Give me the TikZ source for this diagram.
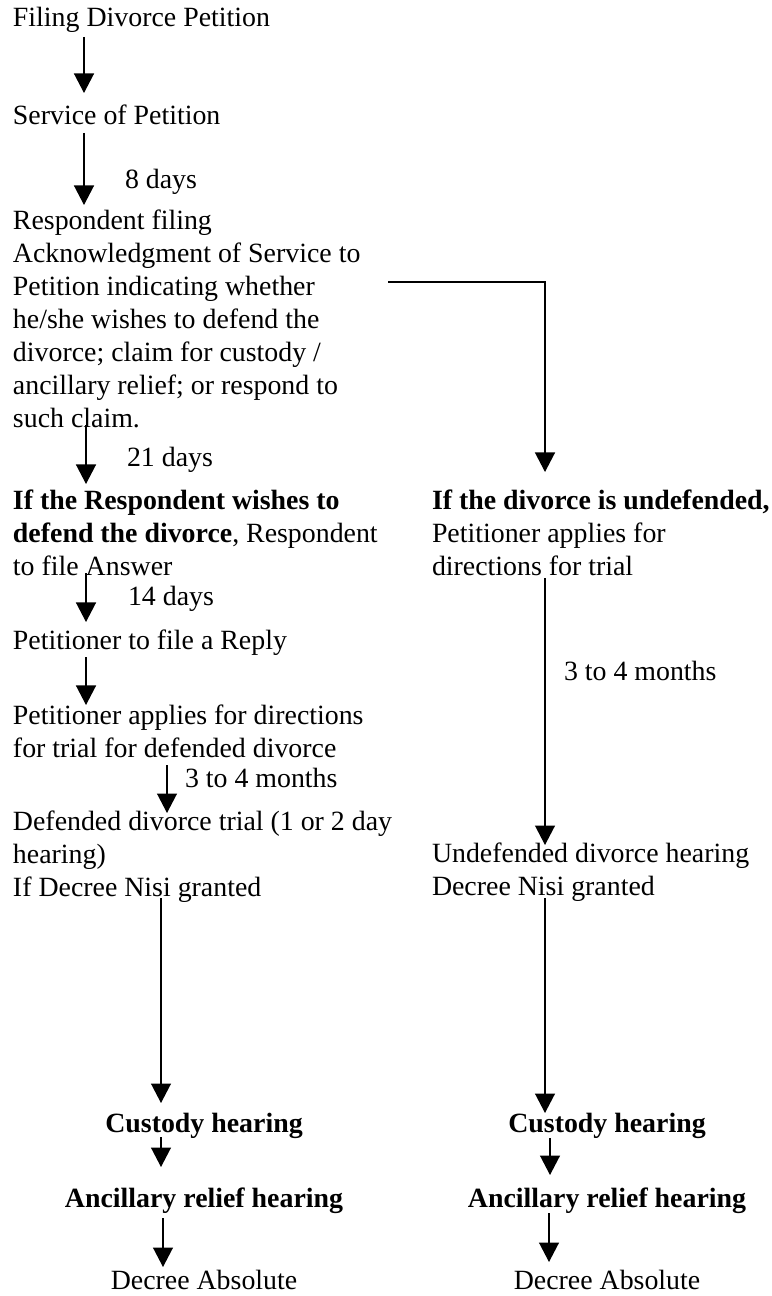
\documentclass[tikz,border=0pt]{standalone}
\usepackage{fontspec}
\setmainfont{Liberation Serif}
\usetikzlibrary{arrows.meta}
\tikzset{
  base/.style={inner sep=0pt, outer sep=0pt, font=\fontsize{12}{14.2}\selectfont},
  para/.style={base, align=left, anchor=north west},
  oneline/.style={base, anchor=base west},
  ctr/.style={base, anchor=base},
  arr/.style={line width=0.6pt, -{Triangle[width=8.6pt,length=8.4pt]}},
  conn/.style={line width=0.6pt}
}
\begin{document}
\begin{tikzpicture}[x=0.4307pt,y=-0.4307pt]
\useasboundingbox (0,0) rectangle (772,1296);
% left column
\node[oneline] (filing) at (13,27) {Filing Divorce Petition};
\node[oneline] (service) at (13,125) {Service of Petition};
\node[oneline] (d8) at (125,189) {8 days};
\node[para] (ack) at (13,210) {Respondent filing\\Acknowledgment of Service to\\Petition indicating whether\\he/she wishes to defend the\\divorce; claim for custody /\\ancillary relief; or respond to\\such claim.};
\node[oneline] (d21) at (127,467) {21 days};
\node[para] (defend) at (13,490) {\textbf{If the Respondent wishes to}\\\textbf{defend the divorce}, Respondent\\to file Answer};
\node[oneline] (d14) at (128,605) {14 days};
\node[oneline] (reply) at (13,649) {Petitioner to file a Reply};
\node[para] (dirL) at (13,705) {Petitioner applies for directions\\for trial for defended divorce};
\node[oneline] (m34L) at (185,787) {3 to 4 months};
\node[para] (trial) at (13,811) {Defended divorce trial (1 or 2 day\\hearing)\\If Decree Nisi granted};
% right column
\node[para] (undef) at (432,490) {\textbf{If the divorce is undefended,}\\Petitioner applies for\\directions for trial};
\node[oneline] (m34R) at (564,680) {3 to 4 months};
\node[para] (hearR) at (432,843) {Undefended divorce hearing\\Decree Nisi granted};
% bottom
\node[ctr, font=\fontsize{12}{14.2}\selectfont\bfseries] (custL) at (204,1132) {Custody hearing};
\node[ctr, font=\fontsize{12}{14.2}\selectfont\bfseries] (custR) at (607,1132) {Custody hearing};
\node[ctr, font=\fontsize{12}{14.2}\selectfont\bfseries] (ancL) at (204,1207) {Ancillary relief hearing};
\node[ctr, font=\fontsize{12}{14.2}\selectfont\bfseries] (ancR) at (607,1207) {Ancillary relief hearing};
\node[ctr] (absL) at (204,1289) {Decree Absolute};
\node[ctr] (absR) at (607,1289) {Decree Absolute};
% connector end points
\coordinate (a1s) at (84,37);   \coordinate (a1e) at (84,93);
\coordinate (a2s) at (84,133);  \coordinate (a2e) at (84,205);
\coordinate (a3s) at (86,425);  \coordinate (a3e) at (86,484);
\coordinate (a4s) at (388,282); \coordinate (a4k) at (545,282); \coordinate (a4e) at (545,472);
\coordinate (a5s) at (86,573);  \coordinate (a5e) at (86,622);
\coordinate (a6s) at (86,657);  \coordinate (a6e) at (86,705);
\coordinate (a7s) at (167,765); \coordinate (a7e) at (167,813);
\coordinate (a8s) at (545,578); \coordinate (a8e) at (545,845);
\coordinate (a9s) at (161,898); \coordinate (a9e) at (161,1103);
\coordinate (a10s) at (545,898); \coordinate (a10e) at (545,1113);
\coordinate (a11s) at (161,1137); \coordinate (a11e) at (161,1167);
\coordinate (a12s) at (550,1138); \coordinate (a12e) at (550,1175);
\coordinate (a13s) at (163,1218); \coordinate (a13e) at (163,1267);
\coordinate (a14s) at (549,1213); \coordinate (a14e) at (549,1262);
% connectors
\draw[arr] (a1s) -- (a1e);
\draw[arr] (a2s) -- (a2e);
\draw[arr] (a3s) -- (a3e);
\draw[arr] (a4s) -- (a4k) -- (a4e);
\draw[arr] (a5s) -- (a5e);
\draw[arr] (a6s) -- (a6e);
\draw[arr] (a7s) -- (a7e);
\draw[arr] (a8s) -- (a8e);
\draw[arr] (a9s) -- (a9e);
\draw[arr] (a10s) -- (a10e);
\draw[arr] (a11s) -- (a11e);
\draw[arr] (a12s) -- (a12e);
\draw[arr] (a13s) -- (a13e);
\draw[arr] (a14s) -- (a14e);
\end{tikzpicture}
\end{document}
